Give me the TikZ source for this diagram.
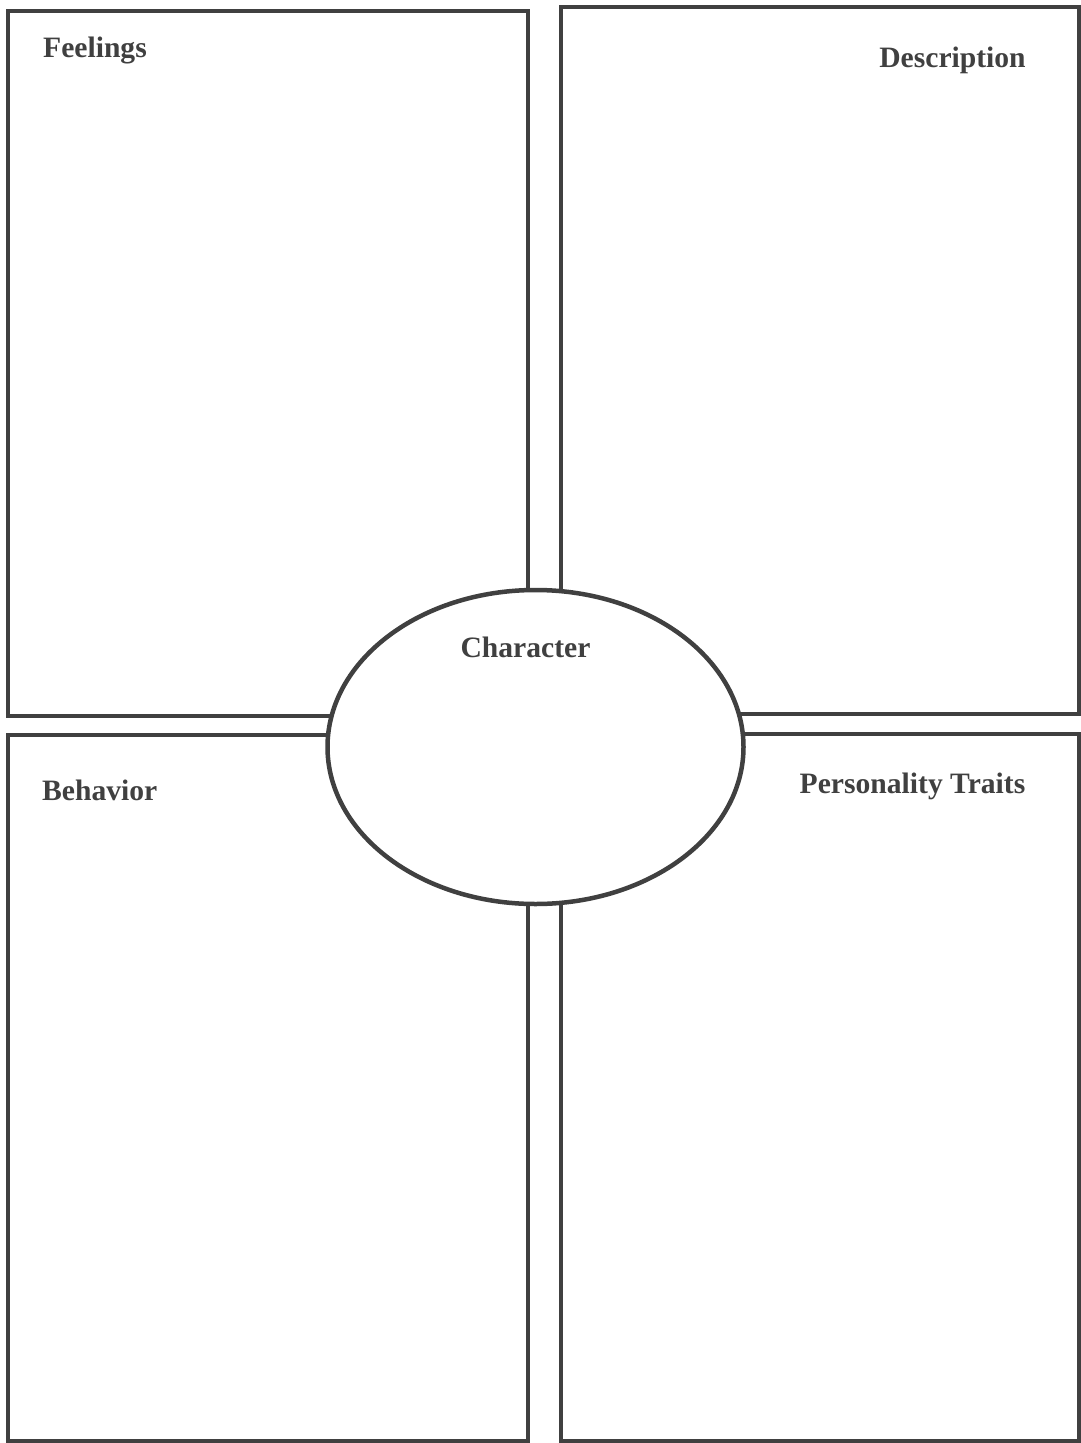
\documentclass[tikz,border=0pt]{standalone}
\usepackage{fontspec}
\setmainfont{Liberation Serif}
\definecolor{ink}{HTML}{404040}
\begin{document}
\begin{tikzpicture}[x=1pt,y=-1pt,
  panel/.style={draw=ink, line width=4.5pt},
  hub/.style={draw=ink, line width=4.5pt, fill=white},
  heading/.style={text=ink, font=\fontsize{29.6}{34}\selectfont\bfseries, inner sep=0pt}]
\useasboundingbox[fill=white] (0,0) rectangle (1081,1443);
% four panels
\draw[panel] (8,11) rectangle (528,716);
\draw[panel] (561,7) rectangle (1079,714);
\draw[panel] (8,735) rectangle (528,1441);
\draw[panel] (561,734) rectangle (1079,1441);
% central oval
\draw[hub] (535.5,747) ellipse [x radius=208, y radius=157];
\coordinate (hub) at (535.5,747);
% headings
\node[heading, anchor=west] (feel) at (43,50) {Feelings};
\node[heading] (desc) at (952.5,60) {Description};
\node[heading] (char) at (525.5,647) {Character};
\node[heading, anchor=west] (behav) at (42,790) {Behavior};
\node[heading] (pers) at (912.5,786) {Personality Traits};
\end{tikzpicture}
\end{document}
